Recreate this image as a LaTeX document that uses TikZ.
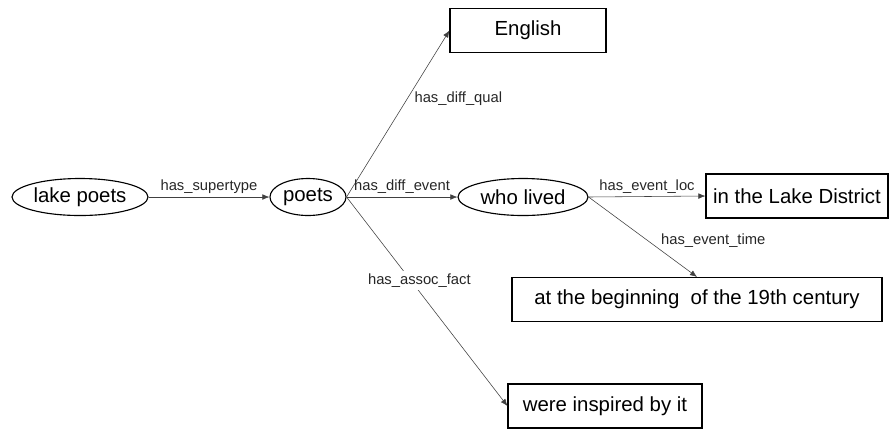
\documentclass[tikz,border=0pt]{standalone}
\usepackage{fontspec}
\setmainfont{Liberation Sans}
\usetikzlibrary{shapes.geometric,arrows.meta}
\begin{document}
\begin{tikzpicture}[
    oval/.style={draw, thick, ellipse, inner sep=0pt, minimum height=0.925cm, font=\fontsize{14.5}{16}\selectfont},
    box/.style={draw, thick, rectangle, inner sep=0pt, minimum height=1.1cm, font=\fontsize{14.5}{16}\selectfont},
    rel/.style={-{Latex[length=5pt,width=4pt]}, black!75},
    lbl/.style={font=\fontsize{10.5}{12}\selectfont, text=black!85, inner sep=2pt}
]
    \useasboundingbox (0,0) rectangle (22.225,-10.725);
    %Concepts
    \node[oval, minimum width=3.4cm] (lake) at (2.0,-4.925) {lake poets};
    \node[oval, minimum width=1.9cm] (poets) at (7.7,-4.925) {poets};
    \node[oval, minimum width=3.25cm] (lived) at (13.075,-4.925) {who lived};
    %Values
    \node[box, minimum width=3.9cm] (english) at (13.2,-0.7625) {English};
    \node[box, minimum width=4.55cm] (district) at (19.925,-4.9) {in the Lake District};
    \node[box, minimum width=9.25cm] (begin) at (17.425,-7.4875) {at the beginning\ \ of the 19th century};
    \node[box, minimum width=4.85cm] (inspired) at (15.125,-10.15) {were inspired by it};
    %Relations
    \draw[rel] (lake.east) -- node[lbl, above] (l1) {has\_supertype} (poets.west);
    \draw[rel] (poets.east) -- node[lbl, pos=0.59, anchor=west, xshift=3pt] (l2) {has\_diff\_qual} (english.west);
    \draw[rel] (poets.east) -- node[lbl, above] (l3) {has\_diff\_event} (lived.west);
    \draw[rel] (poets.east) -- node[lbl, pos=0.4, fill=white, xshift=6pt] (l4) {has\_assoc\_fact} (inspired.west);
    \draw[rel] (lived.east) -- node[lbl, above] (l5) {has\_event\_loc} (district.west);
    \draw[rel] (lived.east) -- node[lbl, pos=0.55, anchor=west, xshift=7pt] (l6) {has\_event\_time} (begin.north);
\end{tikzpicture}
\end{document}
